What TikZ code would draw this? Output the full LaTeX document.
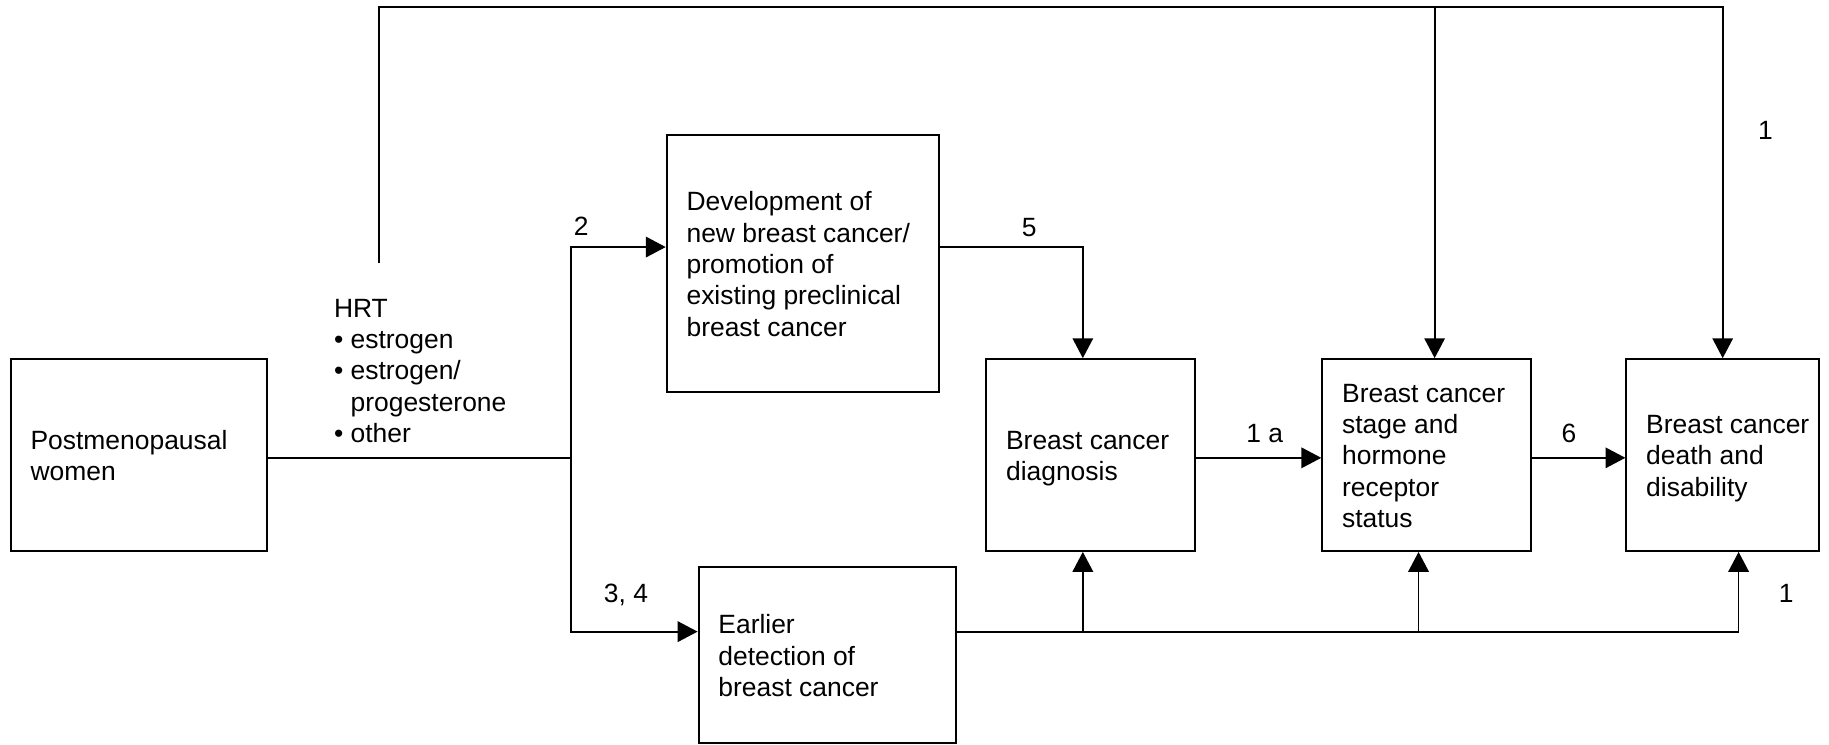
\documentclass[tikz,border=0pt]{standalone}
\usepackage{fontspec}
\setmainfont{Liberation Sans}
\usetikzlibrary{arrows.meta,calc}

\tikzset{
	box/.style={draw, line width=1pt, inner sep=0pt},
	txt/.style={anchor=west, align=left, inner sep=0pt, text depth=0pt},
	num/.style={inner sep=0pt, text depth=0pt},
	link/.style={line width=0.85pt},
	arr/.style={link, -{Triangle[length=9.7pt,width=10pt]}}
}

\begin{document}
\begin{tikzpicture}[x=0.02cm, y=-0.02cm, font=\fontsize{12.9}{15.3}\selectfont]
	%%%%% START %%%%%
	\useasboundingbox (0,0) rectangle (1568,638);
	
	% boxes
	\node[box, minimum width=4.394cm, minimum height=3.288cm] (post) at (119.05,390.1) {};
	\node[box, minimum width=4.672cm, minimum height=4.394cm] (dev) at (688.4,225.85) {};
	\node[box, minimum width=3.578cm, minimum height=3.288cm] (diag) at (934.95,390.1) {};
	\node[box, minimum width=3.584cm, minimum height=3.288cm] (stage) at (1223.2,390.1) {};
	\node[box, minimum width=3.302cm, minimum height=3.288cm] (death) at (1476.85,390.1) {};
	\node[box, minimum width=4.408cm, minimum height=3.006cm] (early) at (709.1,561.55) {};
	
	\node[txt] (posttxt) at ($(post.west)+(17.5,0.5)$) {Postmenopausal\\women};
	\node[txt] (devtxt) at ($(dev.west)+(17.5,0.5)$) {Development of\\new breast cancer/\\promotion of\\existing preclinical\\breast cancer};
	\node[txt] (diagtxt) at ($(diag.west)+(17.5,0.5)$) {Breast cancer\\diagnosis};
	\node[txt] (stagetxt) at ($(stage.west)+(17.5,0.5)$) {Breast cancer\\stage and\\hormone\\receptor\\status};
	\node[txt] (deathtxt) at ($(death.west)+(17.5,0.5)$) {Breast cancer\\death and\\disability};
	\node[txt] (earlytxt) at ($(early.west)+(17.5,0.5)$) {Earlier\\detection of\\breast cancer};
	
	\node[txt] (hrt) at (286,317.9) {HRT\\\textbullet\ estrogen\\\textbullet\ estrogen/\\\hphantom{\textbullet\ }progesterone\\\textbullet\ other};
	
	% junctions
	\coordinate (fork) at (489.5,392.5);
	\coordinate (up) at (489.5,211.8);
	\coordinate (down) at (489.5,541.5);
	\coordinate (hrtfoot) at (325,225.7);
	\coordinate (roof) at (325,6.1);
	\coordinate (roofst) at (1229.9,6.1);
	\coordinate (bA) at (928.3,541.5);
	\coordinate (bB) at (1216.1,541.5);
	\coordinate (bC) at (1490.5,541.5);
	
	% HRT paths
	\draw[link] (fork -| post.east) -- (fork);
	\draw[arr] (fork) |- (up -| dev.west);
	\draw[arr] (fork) |- (down -| early.west);
	\draw[arr] (hrtfoot) |- (roof -| death.north) -- (death.north);
	\draw[arr] (roofst) -- (roofst |- stage.north);
	
	\draw[arr] (up -| dev.east) -| (bA |- diag.north);
	\draw[arr] (fork -| diag.east) -- (fork -| stage.west);
	\draw[arr] (fork -| stage.east) -- (fork -| death.west);
	
	\draw[link] (bA -| early.east) -- (bC);
	\draw[arr] (bA) -- (bA |- diag.south);
	\draw[arr] (bB) -- (bB |- stage.south);
	\draw[arr] (bC) -- (bC |- death.south);
	
	% numbers
	\node[num] (l2) at (498.3,194.4) {2};
	\node[num] (l34) at (536.7,508.4) {3, 4};
	\node[num] (l5) at (882.3,194.9) {5};
	\node[num] (l1a) at (1084.3,371.4) {1 a};
	\node[num] (l6) at (1345.1,371.4) {6};
	\node[num] (l1top) at (1513.6,111.9) {1};
	\node[num] (l1bot) at (1531.4,508.5) {1};
	%%%%% END %%%%%
\end{tikzpicture}
\end{document}
